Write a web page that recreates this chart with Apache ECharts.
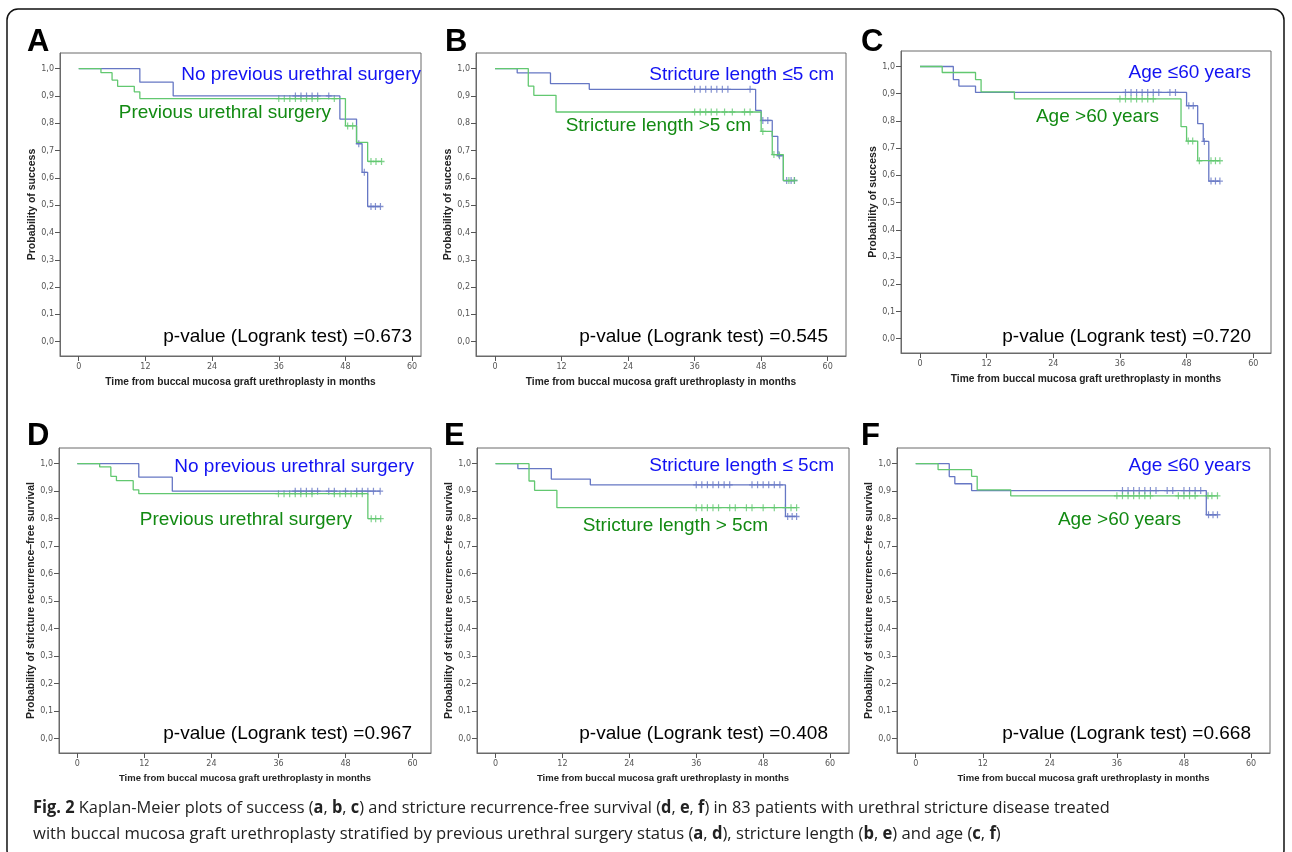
<!DOCTYPE html>
<html>
<head>
<meta charset="utf-8">
<title>Fig. 2 Kaplan-Meier</title>
<script src="https://cdn.jsdelivr.net/npm/echarts@6/dist/echarts.min.js"></script>
<style>
  html, body { margin: 0; padding: 0; background: #fff; }
  #chart { width: 1292px; height: 852px; }
</style>
</head>
<body>
<div id="chart"></div>
<script>
// tick labels
const months = [0, 12, 24, 36, 48, 60]
const probTicks = [0, 0.1, 0.2, 0.3, 0.4, 0.5, 0.6, 0.7, 0.8, 0.9, 1.0]

// A: previous urethral surgery (success)
const aNoPrevSteps = [[0, 1], [11, 0.95], [17, 0.9], [47, 0.815], [50, 0.725], [51, 0.62], [52, 0.495], [54.3, 0.495]]
const aNoPrevCensor = [39, 40, 41, 42, 43, 45, 50.4, 51.4, 52.6, 53.4, 54.3]
const aPrevSteps = [[0, 1], [4, 0.985], [6, 0.958], [7, 0.935], [10, 0.915], [11, 0.89], [48, 0.79], [50, 0.73], [52, 0.66], [54.5, 0.66]]
const aPrevCensor = [36, 37, 38, 39, 40, 41, 42, 43, 46, 48.4, 49.3, 52.6, 53.5, 54.5]

// B: stricture length (success)
const bShortSteps = [[0, 1], [4, 0.984], [10, 0.945], [17, 0.924], [47, 0.847], [48, 0.81], [50, 0.752], [51, 0.681], [52, 0.59], [54, 0.59]]
const bShortCensor = [36, 37, 38, 39, 40, 41, 42, 46, 48.3, 49.2, 51.3, 52.6, 53.4, 54]
const bLongSteps = [[0, 1], [6, 0.936], [7, 0.902], [11, 0.841], [48, 0.77], [50, 0.685], [52, 0.59], [54, 0.59]]
const bLongCensor = [36, 37, 38, 39, 40, 41.4, 42.8, 45, 46, 48.3, 50.3, 51.2, 53, 54]

// C: age (success)
const cYoungSteps = [[0, 1], [6, 0.952], [7, 0.928], [10, 0.905], [48, 0.856], [50, 0.79], [51, 0.725], [52, 0.579], [54, 0.579]]
const cYoungCensor = [37, 38, 39, 40, 41, 42, 43, 45, 46, 48.4, 49.2, 51.2, 52.4, 53.2, 54]
const cOldSteps = [[0, 1], [4, 0.978], [10, 0.952], [11, 0.907], [17, 0.881], [47, 0.779], [48, 0.726], [50, 0.654], [54, 0.654]]
const cOldCensor = [36, 37, 38, 39, 40, 41, 42, 48.3, 49.1, 50.3, 52.4, 53.2, 54]

// D: previous urethral surgery (recurrence-free)
const dNoPrevSteps = [[0, 1], [11, 0.951], [17, 0.9], [54.2, 0.9]]
const dNoPrevCensor = [39, 40, 41, 42, 43, 45, 46, 48, 50, 51, 52, 53, 54.2]
const dPrevSteps = [[0, 1], [4, 0.988], [6, 0.954], [7, 0.938], [10, 0.905], [11, 0.891], [52, 0.8], [54.3, 0.8]]
const dPrevCensor = [36, 37, 38, 39, 40, 41, 42, 46, 47, 48, 49, 50, 51, 52.6, 53.4, 54.3]

// E: stricture length (recurrence-free)
const eShortSteps = [[0, 1], [4, 0.982], [10, 0.944], [17, 0.923], [52, 0.808], [54, 0.808]]
const eShortCensor = [36, 37, 38, 39, 40, 41, 42, 46, 47, 48, 49, 50, 51, 52.4, 53.2, 54]
const eLongSteps = [[0, 1], [6, 0.937], [7, 0.903], [11, 0.84], [54, 0.84]]
const eLongCensor = [36, 37, 38, 39, 40, 42, 43, 45, 46, 48, 50, 52, 53, 54]

// F: age (recurrence-free)
const fYoungSteps = [[0, 1], [6, 0.953], [7, 0.927], [10, 0.902], [52, 0.814], [54, 0.814]]
const fYoungCensor = [37, 38, 39, 40, 41, 42, 43, 45, 46, 48, 49, 50, 51, 52.4, 53.2, 54]
const fOldSteps = [[0, 1], [4, 0.978], [10, 0.954], [11, 0.905], [17, 0.883], [54, 0.883]]
const fOldCensor = [36, 37, 38, 39, 40, 41, 42, 47, 48, 49, 50, 52.3, 53, 54]

// texts
const panelLetters = ['A', 'B', 'C', 'D', 'E', 'F']
const blueLabels = ['No previous urethral surgery', 'Stricture length \u22645 cm', 'Age \u226460 years',
  'No previous urethral surgery', 'Stricture length \u2264 5cm', 'Age \u226460 years']
const greenLabels = ['Previous urethral surgery', 'Stricture length >5 cm', 'Age >60 years',
  'Previous urethral surgery', 'Stricture length > 5cm', 'Age >60 years']
const pValues = ['0.673', '0.545', '0.720', '0.967', '0.408', '0.668']
const yNames = ['Probability of success', 'Probability of success', 'Probability of success',
  'Probability of stricture recurrence\u2013free survival', 'Probability of stricture recurrence\u2013free survival',
  'Probability of stricture recurrence\u2013free survival']
const xName = 'Time from buccal mucosa graft urethroplasty in months'

const blueSets = [[aNoPrevSteps, aNoPrevCensor], [bShortSteps, bShortCensor], [cYoungSteps, cYoungCensor],
  [dNoPrevSteps, dNoPrevCensor], [eShortSteps, eShortCensor], [fYoungSteps, fYoungCensor]]
const greenSets = [[aPrevSteps, aPrevCensor], [bLongSteps, bLongCensor], [cOldSteps, cOldCensor],
  [dPrevSteps, dPrevCensor], [eLongSteps, eLongCensor], [fOldSteps, fOldCensor]]

// frame boxes (px) and axis extents for each panel
const frames = [
  { l: 60, t: 53, r: 421, b: 356, xMin: -3.37, xMax: 61.6 },
  { l: 476, t: 53, r: 846, b: 356, xMin: -3.43, xMax: 63.3 },
  { l: 901, t: 51, r: 1271, b: 353, xMin: -3.42, xMax: 63.2 },
  { l: 59, t: 448, r: 431, b: 753, xMin: -3.28, xMax: 63.3 },
  { l: 477, t: 448, r: 849, b: 753, xMin: -3.33, xMax: 63.4 },
  { l: 897, t: 448, r: 1270, b: 753, xMin: -3.35, xMax: 63.4 }
]
// text anchors: letter, blue label, green label, p-value
const letterPos = [[27, 42], [445, 42], [861, 42], [27, 436], [444, 436], [861, 436]]
const bluePos = [[421, 75], [834, 75], [1251, 73], [414, 467], [834, 466], [1251, 466]]
const greenPos = [[331, 113], [751, 126], [1159, 117], [352, 520], [768, 526], [1181, 520]]
const pPos = [[412, 337], [828, 337], [1251, 337], [412, 734], [828, 734], [1251, 734]]

const BLUE_LINE = '#6677c4'
const GREEN_LINE = '#62c870'
const BLUE_TEXT = '#1212f2'
const GREEN_TEXT = '#128a12'
const PLUS = 'path://M0,4H10V6H0Z M4,0H6V10H4Z'

// survival level at time t
function levelAt(steps, t) {
  let s = steps[0][1]
  for (const p of steps) {
    if (p[0] <= t) s = p[1]
  }
  return s
}

const grids = []
const xAxes = []
const yAxes = []
const series = []
const graphics = []

frames.forEach((f, i) => {
  const row2 = i >= 3
  grids.push({
    left: f.l, top: f.t, width: f.r - f.l, height: f.b - f.t,
    show: true, borderColor: '#6a6a6a', borderWidth: 1, backgroundColor: '#fff'
  })
  xAxes.push({
    type: 'value', gridIndex: i, min: f.xMin, max: f.xMax,
    name: xName, nameLocation: 'middle', nameGap: row2 ? 20 : 21,
    nameTextStyle: { fontFamily: 'Liberation Sans', fontWeight: 'bold', fontSize: row2 ? 9.5 : 10.2, color: '#222' },
    axisLine: { show: true, onZero: false, lineStyle: { color: '#6a6a6a' } },
    axisTick: { show: true, length: 5, customValues: months, lineStyle: { color: '#555' } },
    axisLabel: { customValues: months, fontSize: 8, color: '#555', margin: 7, fontFamily: 'DejaVu Sans' },
    splitLine: { show: false }
  })
  yAxes.push({
    type: 'value', gridIndex: i, min: -0.0524, max: 1.057,
    name: yNames[i], nameLocation: 'middle', nameGap: 21,
    nameTextStyle: { fontFamily: 'Liberation Sans', fontWeight: 'bold', fontSize: 10.5, color: '#222' },
    axisLine: { show: true, onZero: false, lineStyle: { color: '#6a6a6a' } },
    axisTick: { show: true, length: 5, customValues: probTicks, lineStyle: { color: '#555' } },
    axisLabel: {
      customValues: probTicks, fontSize: 8, color: '#555', margin: 6, fontFamily: 'DejaVu Sans',
      formatter: v => v.toFixed(1).replace('.', ',')
    },
    splitLine: { show: false }
  })

  const sets = [[blueSets[i], BLUE_LINE], [greenSets[i], GREEN_LINE]]
  sets.forEach(([set, color]) => {
    const steps = set[0]
    const cens = set[1]
    series.push({
      type: 'line', xAxisIndex: i, yAxisIndex: i, data: steps, step: 'end',
      showSymbol: false, silent: true, animation: false,
      lineStyle: { color: color, width: 1.3 }
    })
    series.push({
      type: 'scatter', xAxisIndex: i, yAxisIndex: i,
      data: cens.map(t => [t, levelAt(steps, t)]),
      symbol: PLUS, symbolSize: [6, 7], silent: true, animation: false,
      itemStyle: { color: color }
    })
  })

  // panel letter, group labels, p-value
  graphics.push({
    type: 'text', x: letterPos[i][0], y: letterPos[i][1],
    style: { text: panelLetters[i], font: 'bold 31px "Liberation Sans"', fill: '#000', align: 'left', verticalAlign: 'middle' }
  })
  graphics.push({
    type: 'text', x: bluePos[i][0], y: bluePos[i][1],
    style: { text: blueLabels[i], font: '19px "Liberation Sans"', fill: BLUE_TEXT, align: 'right', verticalAlign: 'middle' }
  })
  graphics.push({
    type: 'text', x: greenPos[i][0], y: greenPos[i][1],
    style: { text: greenLabels[i], font: '19px "Liberation Sans"', fill: GREEN_TEXT, align: 'right', verticalAlign: 'middle' }
  })
  graphics.push({
    type: 'text', x: pPos[i][0], y: pPos[i][1],
    style: { text: 'p-value (Logrank test) =' + pValues[i], font: '19px "Liberation Sans"', fill: '#000', align: 'right', verticalAlign: 'middle' }
  })
})

// caption, squeezed to the width of the original lines
const capFont = '17px "Open Sans"'
const cap1 = '{b|Fig. 2} Kaplan-Meier plots of success ({b|a}, {b|b}, {b|c}) and stricture recurrence-free survival ({b|d}, {b|e}, {b|f}) in 83 patients with urethral stricture disease treated'
const cap2 = 'with buccal mucosa graft urethroplasty stratified by previous urethral surgery status ({b|a}, {b|d}), stricture length ({b|b}, {b|e}) and age ({b|c}, {b|f})'
const ctx = document.createElement('canvas').getContext('2d')
ctx.font = capFont
function squeeze(str, target) {
  const plain = str.replace(/\{b\|([^}]*)\}/g, '$1')
  return target / (ctx.measureText(plain).width * 1.01)
}
const capRich = { b: { fontWeight: 'bold', fontFamily: 'Open Sans', fontSize: 17, fill: '#222' } }
graphics.push({
  type: 'text', x: 33, y: 808, scaleX: squeeze(cap1, 1082),
  style: { text: cap1, font: capFont, fill: '#222', align: 'left', verticalAlign: 'middle', rich: capRich }
})
graphics.push({
  type: 'text', x: 33, y: 834, scaleX: squeeze(cap2, 974),
  style: { text: cap2, font: capFont, fill: '#222', align: 'left', verticalAlign: 'middle', rich: capRich }
})
// outer rounded frame
graphics.push({
  type: 'rect', shape: { x: 7, y: 9, width: 1277, height: 852, r: 11 },
  style: { fill: 'none', stroke: '#111', lineWidth: 1.5 }, silent: true
})

const chart = echarts.init(document.getElementById('chart'), null, { renderer: 'canvas' })
chart.setOption({
  animation: false,
  backgroundColor: '#fff',
  grid: grids,
  xAxis: xAxes,
  yAxis: yAxes,
  series: series,
  graphic: graphics
})
</script>
</body>
</html>
